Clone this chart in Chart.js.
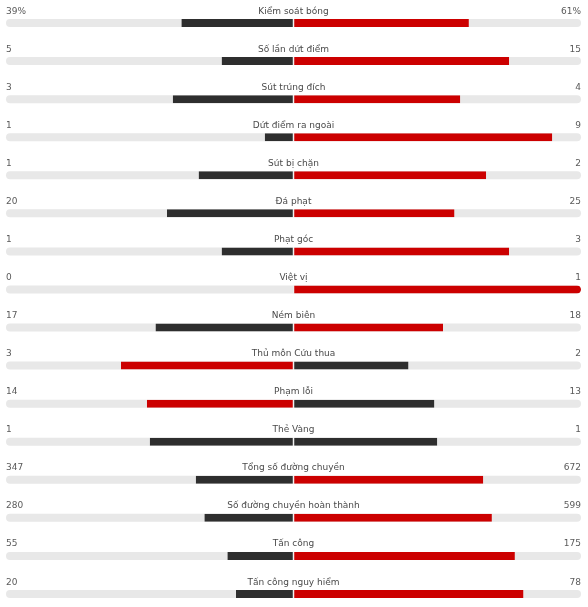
<!DOCTYPE html>
<html>
<head>
<meta charset="utf-8">
<script src="https://cdn.jsdelivr.net/npm/chart.js@4.4.0/dist/chart.umd.min.js"></script>
<style>
html,body{margin:0;padding:0;background:#fff;}
#wrap{width:588px;height:607px;}
</style>
</head>
<body>
<div id="wrap"><canvas id="c" width="588" height="607"></canvas></div>
<script>
const categories = [
  'Kiểm soát bóng','Số lần dứt điểm','Sút trúng đích','Dứt điểm ra ngoài',
  'Sút bị chặn','Đá phạt','Phạt góc','Việt vị','Ném biên','Thủ môn Cứu thua',
  'Phạm lỗi','Thẻ Vàng','Tổng số đường chuyền','Số đường chuyền hoàn thành',
  'Tấn công','Tấn công nguy hiểm'
];
const homeValues = [39,5,3,1,1,20,1,0,17,3,14,1,347,280,55,20];
const awayValues = [61,15,4,9,2,25,3,1,18,2,13,1,672,599,175,78];
const homeLabels = ['39%','5','3','1','1','20','1','0','17','3','14','1','347','280','55','20'];
const awayLabels = ['61%','15','4','9','2','25','3','1','18','2','13','1','672','599','175','78'];

const RED = '#cc0000', DARK = '#2e2e2e', TRACK = '#e8e8e8';

const homeShare = homeValues.map((h, i) => {
  const t = h + awayValues[i];
  return t ? Math.floor(100 * h / t) : 0;
});
const awayShare = homeShare.map((s, i) => (homeValues[i] + awayValues[i]) ? 100 - s : 0);

const homeColors = homeValues.map((h, i) => h > awayValues[i] ? RED : DARK);
const awayColors = awayValues.map((a, i) => a > homeValues[i] ? RED : DARK);

const textPlugin = {
  id: 'rowText',
  afterDatasetsDraw(chart) {
    const ctx = chart.ctx;
    const xs = chart.scales.x, ys = chart.scales.y;
    const left = chart.chartArea.left, right = chart.chartArea.right;
    const cx = xs.getPixelForValue(0);
    ctx.save();
    ctx.font = '9px "DejaVu Sans"';
    ctx.textBaseline = 'alphabetic';
    categories.forEach((c, i) => {
      const y = ys.getPixelForValue(i) - 9.5;
      ctx.fillStyle = '#5a5a5a';
      ctx.textAlign = 'left';
      ctx.fillText(homeLabels[i], left, y);
      ctx.textAlign = 'right';
      ctx.fillText(awayLabels[i], right, y);
      ctx.fillStyle = '#4a4a4a';
      ctx.textAlign = 'center';
      ctx.fillText(c, cx, y);
    });
    ctx.restore();
  }
};

new Chart(document.getElementById('c'), {
  type: 'bar',
  data: {
    labels: categories,
    datasets: [
      {
        label: 'home',
        data: homeShare.map(s => [-s, 0]),
        backgroundColor: homeColors,
        borderColor: '#fff',
        borderWidth: ctx => homeShare[ctx.dataIndex] > 0 ? {right: 0.75} : 0,
        borderSkipped: false,
        borderRadius: ctx => homeShare[ctx.dataIndex] >= 100 ? {topLeft: 4, bottomLeft: 4} : 0,
        barThickness: 8,
        inflateAmount: 0,
        clip: false,
        order: 1
      },
      {
        label: 'away',
        data: awayShare.map(s => [0, s]),
        backgroundColor: awayColors,
        borderColor: '#fff',
        borderWidth: ctx => awayShare[ctx.dataIndex] > 0 ? {left: 0.75} : 0,
        borderSkipped: false,
        borderRadius: ctx => awayShare[ctx.dataIndex] >= 100 ? {topRight: 4, bottomRight: 4} : 0,
        barThickness: 8,
        inflateAmount: 0,
        clip: false,
        order: 1
      },
      {
        label: 'track',
        data: categories.map(() => [-100, 100]),
        backgroundColor: TRACK,
        borderWidth: 0,
        borderSkipped: false,
        borderRadius: 4,
        barThickness: 8,
        inflateAmount: 0,
        clip: false,
        order: 3
      }
    ]
  },
  options: {
    indexAxis: 'y',
    responsive: false,
    animation: false,
    devicePixelRatio: 1,
    layout: { padding: { top: 23, bottom: 13, left: 6, right: 7 } },
    datasets: { bar: { grouped: false } },
    scales: {
      x: { type: 'linear', min: -100, max: 100, display: false },
      y: { type: 'category', offset: false, display: false }
    },
    plugins: { legend: { display: false }, tooltip: { enabled: false } }
  },
  plugins: [textPlugin]
});
</script>
</body>
</html>
